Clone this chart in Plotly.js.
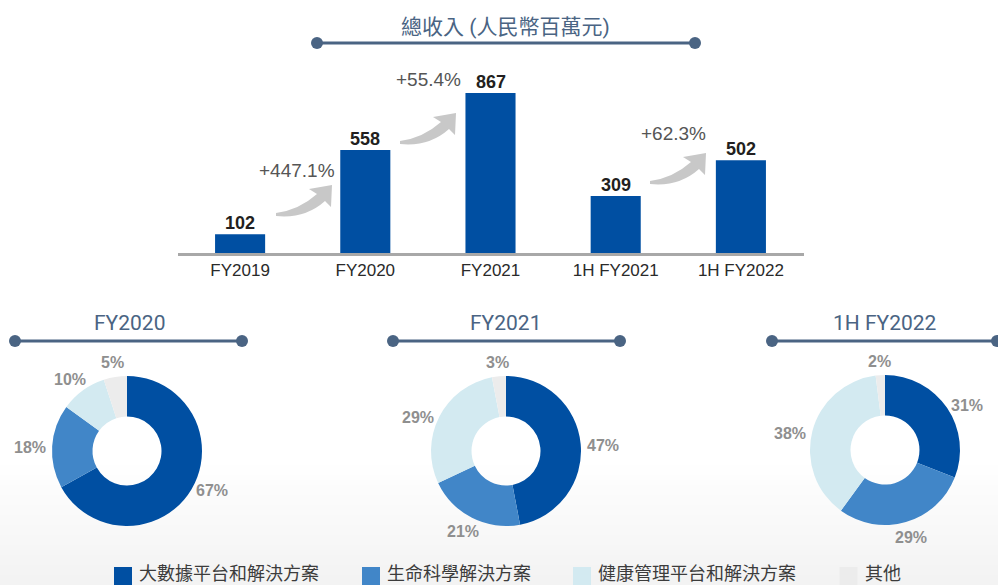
<!DOCTYPE html>
<html><head><meta charset="utf-8">
<script src="https://cdn.plot.ly/plotly-3.0.1.min.js"></script>
<style>html,body{margin:0;padding:0;background:#fff}#chart{width:998px;height:585px}</style>
</head><body><div id="chart"></div>
<script>
// ---- data ----
const periods = ['FY2019', 'FY2020', 'FY2021', '1H FY2021', '1H FY2022'];
const revenue = [102, 558, 867, 309, 502];
const growthLabels = ['+447.1%', '+55.4%', '+62.3%'];
const segments = ['大數據平台和解決方案', '生命科學解決方案', '健康管理平台和解決方案', '其他'];
const mixPeriods = ['FY2020', 'FY2021', '1H FY2022'];
const mixFY2020 = [67, 18, 10, 5];
const mixFY2021 = [47, 21, 29, 3];
const mix1HFY2022 = [31, 29, 38, 2];
const mainTitle = '總收入 (人民幣百萬元)';

// ---- styles / layout config ----
const W = 998, H = 585;
const px = x => x / W;
const py = y => 1 - y / H;
const barColor = '#004fa2';
const segmentColors = ['#004fa2', '#4186c8', '#d3eaf1', '#ececec'];
const slate = '#4a6483';
const growthPos = [[297, 170], [428, 80], [673, 134]];
const arrowTips = [[332, 185], [456, 113], [706, 153]];
const pieCenters = [[127, 451], [506, 451], [885, 450]];
const pieR = 75;
const headers = [
  {text: mainTitle, cx: 505, ty: 27, ly: 43, x0: 317, x1: 695},
  {text: mixPeriods[0], cx: 129, ty: 323, ly: 341, x0: 15, x1: 242},
  {text: mixPeriods[1], cx: 506, ty: 323, ly: 341, x0: 393, x1: 620},
  {text: mixPeriods[2], cx: 885, ty: 323, ly: 341, x0: 772, x1: 997}
];
const pctFont = {family: 'Liberation Sans, Arial, sans-serif', size: 16, color: '#8f8f8f', weight: 'bold'};

const traces = [];
traces.push({
  type: 'bar', x: periods, y: revenue, width: 0.4,
  marker: {color: barColor}, hoverinfo: 'none', showlegend: false,
  xaxis: 'x', yaxis: 'y'
});

const annotations = [];
const shapes = [];

const mixes = [mixFY2020, mixFY2021, mix1HFY2022];
mixes.forEach((vals, i) => {
  const [cx, cy] = pieCenters[i];
  traces.push({
    type: 'pie', labels: segments, values: vals, sort: false,
    direction: 'clockwise', rotation: 0, hole: 0.46,
    marker: {colors: segmentColors, line: {width: 0}},
    textinfo: 'none',
    domain: {x: [px(cx - pieR), px(cx + pieR)], y: [py(cy + pieR), py(cy - pieR)]},
    showlegend: false, hoverinfo: 'none'
  });
  // percentage labels placed radially outside each slice
  const total = vals.reduce((a, b) => a + b, 0);
  let acc = 0;
  vals.forEach(v => {
    const mid = (acc + v / 2) / total * 2 * Math.PI;
    acc += v;
    const s = Math.sin(mid), c = Math.cos(mid);
    const txt = v + '%';
    const hw = txt.length * 5.6, hh = 8.5;
    const R = 80 + hw * Math.abs(s) + hh * Math.abs(c);
    const lx = cx + R * s;
    const ly = cy - R * c * (0.55 + 0.45 * Math.abs(c));
    annotations.push({x: px(lx), y: py(ly), xref: 'paper', yref: 'paper', text: txt,
      showarrow: false, xanchor: 'center', yanchor: 'middle', font: pctFont});
  });
});

// faint background shading toward the bottom
for (let k = 0; k < 12; k++) {
  shapes.push({type: 'rect', xref: 'paper', yref: 'paper', x0: 0, x1: 1, y0: 0, y1: py(465 + k * 10),
    fillcolor: 'rgba(226,231,239,0.05)', line: {width: 0}, layer: 'below'});
}

// value labels
periods.forEach((p, i) => {
  annotations.push({x: p, y: revenue[i], xref: 'x', yref: 'y', text: '<b>' + revenue[i] + '</b>',
    showarrow: false, yanchor: 'bottom', yshift: -1,
    font: {family: 'Liberation Sans, Arial, sans-serif', size: 18, color: '#231f20'}});
});

// growth labels and arrows
growthLabels.forEach((g, i) => {
  annotations.push({x: px(growthPos[i][0]), y: py(growthPos[i][1]), xref: 'paper', yref: 'paper',
    text: g, showarrow: false, xanchor: 'center', yanchor: 'middle',
    font: {family: 'Liberation Sans, Arial, sans-serif', size: 19, color: '#555555'}});
  const [tx, ty] = arrowTips[i];
  const P = (dx, dy) => px(tx + dx) + ',' + py(ty + dy);
  const path = 'M' + P(-56, 28) + ' Q' + P(-33, 25) + ' ' + P(-15, 9) + ' L' + P(-23, 4) +
    ' L' + P(0, 0) + ' L' + P(-1, 22) + ' L' + P(-7, 16) + ' Q' + P(-27, 34) + ' ' + P(-56, 31) + ' Z';
  shapes.push({type: 'path', xref: 'paper', yref: 'paper', path: path,
    fillcolor: '#c8c8c8', line: {width: 0}});
});

// headers with dotted rules
headers.forEach(h => {
  annotations.push({x: px(h.cx), y: py(h.ty), xref: 'paper', yref: 'paper', text: h.text,
    showarrow: false, xanchor: 'center', yanchor: 'middle',
    font: {family: 'Roboto, Noto Sans CJK TC, sans-serif', size: 21, color: slate}});
  shapes.push({type: 'line', xref: 'paper', yref: 'paper', x0: px(h.x0), x1: px(h.x1),
    y0: py(h.ly), y1: py(h.ly), line: {color: slate, width: 3}});
  [h.x0, h.x1].forEach(x => shapes.push({type: 'circle', xref: 'paper', yref: 'paper',
    xsizemode: 'pixel', ysizemode: 'pixel', xanchor: px(x), yanchor: py(h.ly),
    x0: -6, x1: 6, y0: -6, y1: 6, fillcolor: slate, line: {width: 0}}));
});

// legend (manual, sized to match)
let lx = 114;
const charW = 18.5;
segments.forEach((s, i) => {
  shapes.push({type: 'rect', xref: 'paper', yref: 'paper', x0: px(lx), x1: px(lx + 18),
    y0: py(585), y1: py(567), fillcolor: segmentColors[i], line: {width: 0}});
  annotations.push({x: px(lx + 23), y: py(572), xref: 'paper', yref: 'paper', text: s,
    showarrow: false, xanchor: 'left', yanchor: 'middle',
    font: {family: 'Noto Sans CJK TC, sans-serif', size: 18, color: '#3c3c3c'}});
  lx += 24 + s.length * charW + 39;
});

const layout = {
  width: W, height: H, margin: {l: 0, r: 0, t: 0, b: 0},
  paper_bgcolor: '#ffffff', plot_bgcolor: 'rgba(0,0,0,0)',
  xaxis: {domain: [px(178), px(804)], range: [-0.496, 4.504], type: 'category',
    showline: true, linecolor: '#a8a8a8', linewidth: 3, ticks: '', showgrid: false, zeroline: false,
    tickfont: {family: 'Liberation Sans Narrow, Arial Narrow, Liberation Sans, sans-serif', size: 17, color: '#2a2a2a'},
    fixedrange: true},
  yaxis: {domain: [py(253), py(80)], range: [0, 937.4], visible: false, fixedrange: true},
  showlegend: false,
  annotations: annotations, shapes: shapes
};
Plotly.newPlot('chart', traces, layout, {displayModeBar: false, staticPlot: true});
</script></body></html>
